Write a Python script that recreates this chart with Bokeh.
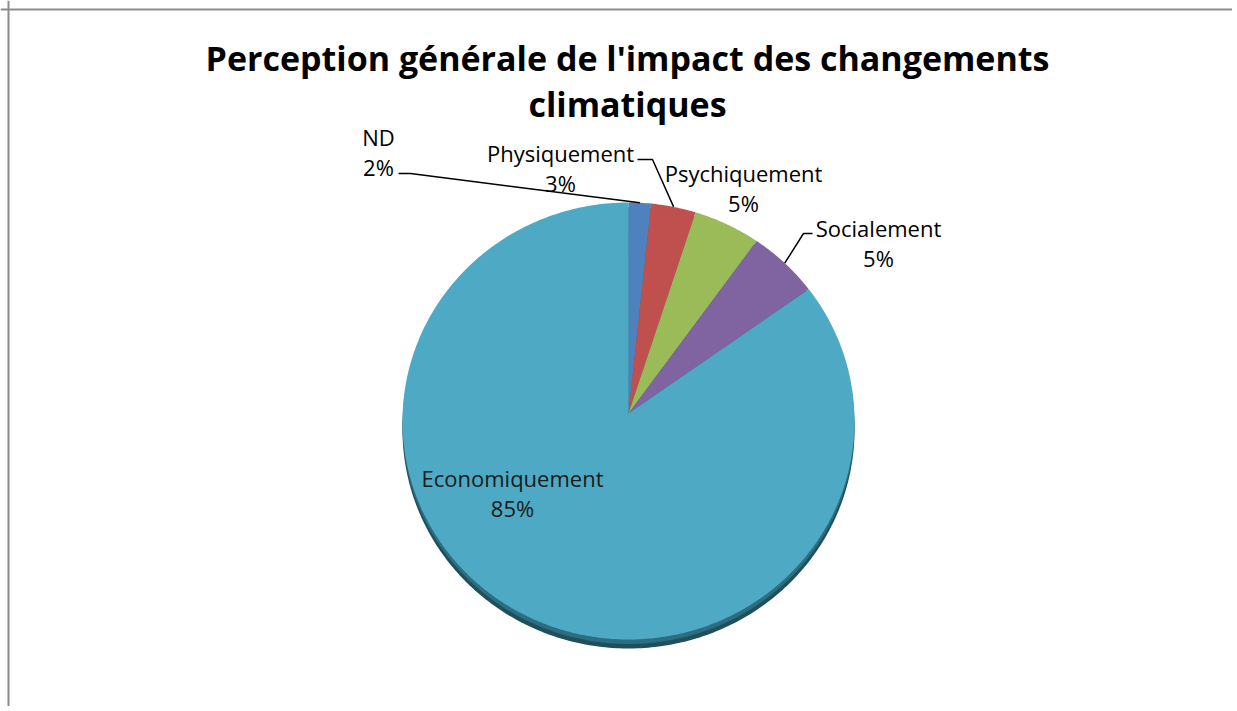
import numpy as np
from bokeh.plotting import figure
from bokeh.models import Range1d, Span
from bokeh.core.properties import value
from bokeh.embed import file_html
from bokeh.resources import INLINE

# ---- data ----
categories = ["ND", "Physiquement", "Psychiquement", "Socialement", "Economiquement"]
percents = [1.6, 3.2, 4.8, 5.1, 85.3]
colors = ["#4F81BD", "#C0504D", "#9BBB59", "#8064A2", "#4DA9C4"]
title_lines = ["Perception générale de l'impact des changements", "climatiques"]

# ---- layout (screen-like coordinates) ----
W, H = 1232, 706
p = figure(width=W, height=H, x_range=Range1d(0, W), y_range=Range1d(H, 0),
           output_backend="svg", toolbar_location=None, min_border=0)
p.axis.visible = False
p.grid.visible = False
p.outline_line_color = None
p.background_fill_color = "white"

# chart border (top and left visible)
p.add_layout(Span(location=9, dimension="width", line_color="#8c8c8c", line_width=2))
p.add_layout(Span(location=8, dimension="height", line_color="#8c8c8c", line_width=2))

FONT = value("Open Sans")

# title
for i, t in enumerate(title_lines):
    p.text(x=[627], y=[57 + 46 * i], text=[t], text_font=FONT, text_font_style="bold",
           text_font_size="34px", text_align="center", text_baseline="middle", text_color="#000000")

# pie geometry
cx, cy, rx, ry = 628.0, 420.5, 226.0, 218.5
ax, ay = 628.0, 413.0
depth = 9.0

def rim(theta):
    return cx + rx * np.sin(theta), cy - ry * np.cos(theta)

# 3D side / shadow
th = np.linspace(0, 2 * np.pi, 400)
sx, sy = rim(th)
p.patch(sx, sy + depth, fill_color="#1E4F5C", line_color=None)
p.patch(sx, sy + depth * 0.5, fill_color="#2C6E80", line_color=None)

vals = np.array(percents, dtype=float)
fr = vals / vals.sum()
starts = np.concatenate([[0], np.cumsum(fr)[:-1]]) * 2 * np.pi
ends = np.cumsum(fr) * 2 * np.pi
xs, ys = [], []
for s, e in zip(starts, ends):
    t = np.linspace(s, e, max(4, int((e - s) / 0.01)))
    rx_, ry_ = rim(t)
    xs.append([ax] + list(rx_))
    ys.append([ay] + list(ry_))
p.patches(xs, ys, fill_color=colors, line_color=None)

# labels
labels_pct = [f"{round(v):d}%" for v in vals]
label_pos = {
    "ND": (378, 136),
    "Physiquement": (560, 152),
    "Psychiquement": (743, 172),
    "Socialement": (878, 227),
    "Economiquement": (512, 477),
}
leader = {
    "ND": [(398, 173), (410, 173)],
    "Physiquement": [(637, 159), (652, 159)],
    "Socialement": [(812, 233), (803, 233)],
}
for i, c in enumerate(categories):
    lx, ly = label_pos[c]
    col = "#1b1b1b" if c == "Economiquement" else "#000000"
    p.text(x=[lx, lx], y=[ly, ly + 30], text=[c, labels_pct[i]], text_font=FONT,
           text_font_size="22px", text_align="center", text_baseline="middle", text_color=col)
    if c in leader:
        mid = (starts[i] + ends[i]) / 2
        mx, my = rim(mid)
        pts = leader[c] + [(mx, my)]
        p.line([q[0] for q in pts], [q[1] for q in pts], line_color="#000000", line_width=1.5)

open("out.html", "w").write(file_html(p, INLINE))
